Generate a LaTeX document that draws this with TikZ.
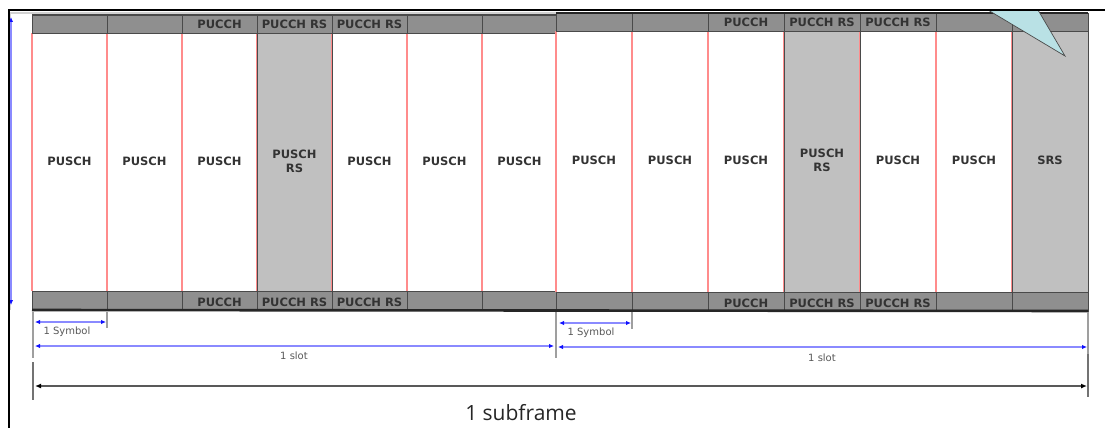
\documentclass[tikz,border=0pt]{standalone}
\usepackage{fontspec}
\setmainfont{DejaVu Sans}
\newfontfamily\capfont{Open Sans}
\usetikzlibrary{arrows.meta}
\definecolor{bandgray}{HTML}{8F8F8F}
\definecolor{cellgray}{HTML}{C0C0C0}
\definecolor{divgray}{HTML}{4A4A4A}
\definecolor{redline}{HTML}{FF8C8C}
\definecolor{txtgray}{HTML}{333333}
\definecolor{dimblue}{HTML}{1010FF}
\definecolor{dimline}{HTML}{8A8AFF}
\definecolor{callout}{HTML}{B9E1E5}
\begin{document}
\begin{tikzpicture}[x=1pt,y=-1pt,
  cellbox/.style={draw=none, inner sep=0pt, outer sep=0pt},
  bandbox/.style={fill=bandgray, draw=divgray, line width=0.9pt, inner sep=0pt, outer sep=0pt},
  celltxt/.style={font=\fontsize{11.5}{14}\selectfont\bfseries, text=txtgray, align=center, inner sep=0pt},
  redl/.style={draw=redline, line width=1.5pt},
  darkl/.style={draw=divgray, line width=0.9pt},
  ticks/.style={draw=gray!75, line width=1.2pt},
  darkticks/.style={draw=gray!90!black, line width=1.6pt},
  bluedim/.style={draw=dimline, line width=1.6pt, {Latex[length=5pt,width=4.5pt,fill=dimblue,color=dimblue]}-{Latex[length=5pt,width=4.5pt,fill=dimblue,color=dimblue]}},
  blackdim/.style={draw=gray!70!black, line width=1.6pt, {Latex[length=6pt,width=5pt,color=black]}-{Latex[length=6pt,width=5pt,color=black]}},
  dimtxt/.style={font=\fontsize{10}{11}\selectfont, text=gray!70!black, inner sep=0pt}]
\useasboundingbox (0,0) rectangle (1105,428);
\fill[white] (0,0) rectangle (1105,428);

% light outer frame around the grid
\draw[gray!35, line width=1.2pt] (10,310) -- (10,13) -- (556,13);

% ---- slots ----
\foreach \s/\xo/\w/\ya/\yb/\yc/\yd/\lastbody/\lastfill/\lastbd in
   {1/32/75/15/33/291/310/PUSCH/white/redl,
    2/556/76/13/31/292/311/SRS/cellgray/darkl} {
  \foreach \i/\body/\fillc in
     {0/PUSCH/white,
      1/PUSCH/white,
      2/PUSCH/white,
      3/{PUSCH\\RS}/cellgray,
      4/PUSCH/white,
      5/PUSCH/white,
      6/\lastbody/\lastfill} {
    \pgfmathsetmacro\xc{\xo+(\i+0.5)*\w}
    \node[cellbox, fill=\fillc, minimum width=\w pt, minimum height={(\yc-\yb)*1pt}]
       (b\s\i) at (\xc,{(\yb+\yc)/2}) {};
    \node[celltxt] (l\s\i) at (\xc,{(\yb+\yc)/2-1}) {\body};
  }
  % red lines first, dark borders of shaded columns after
  \foreach \i/\bd in {0/redl,1/redl,2/redl,4/redl,5/redl,6/\lastbd} {
    \draw[\bd] (b\s\i.north west) -- (b\s\i.south west);
    \draw[\bd] (b\s\i.north east) -- (b\s\i.south east);
  }
  \draw[darkl] (b\s3.north west) -- (b\s3.south west);
  \draw[darkl] (b\s3.north east) -- (b\s3.south east);
  \ifnum\s=2
    \draw[darkl] (b26.north west) -- (b26.south west);
  \fi
  % bands
  \foreach \i/\band in {0/,1/,2/PUCCH,3/PUCCH RS,4/PUCCH RS,5/,6/} {
    \pgfmathsetmacro\xc{\xo+(\i+0.5)*\w}
    \node[bandbox, minimum width=\w pt, minimum height={(\yb-\ya)*1pt}]
       (t\s\i) at (\xc,{(\ya+\yb)/2}) {};
    \node[celltxt] (tl\s\i) at (\xc,{(\ya+\yb)/2+0.5}) {\band};
    \node[bandbox, minimum width=\w pt, minimum height={(\yd-\yc)*1pt}]
       (d\s\i) at (\xc,{(\yc+\yd)/2}) {};
    \node[celltxt] (dl\s\i) at (\xc,{(\yc+\yd)/2+1.5}) {\band};
  }
}

% top edges of the bands
\draw[divgray, line width=1.4pt] (t10.north west) -- (t16.north east);
\draw[black!85, line width=2pt] (t20.north west) -- (t26.north east);

% callout pointer
\fill[callout] (988,10) -- (1065,56) -- (1038,10) -- cycle;
\draw[divgray, line width=0.7pt] (988,10) -- (1065,56) -- (1038,10);

% thick baseline
\draw[black!85, line width=2.6pt] (d10.south west) -- (d26.south east);

% left blue height arrow
\coordinate (ht) at (11,17);
\coordinate (hb) at (11,305);
\draw[bluedim] (ht) -- (hb);

% extension ticks
\coordinate (e1a) at (33,312);  \coordinate (e1b) at (33,358);
\coordinate (e2a) at (107,312); \coordinate (e2b) at (107,328);
\coordinate (e3a) at (556,312); \coordinate (e3b) at (556,358);
\coordinate (e4a) at (632,312); \coordinate (e4b) at (632,329);
\coordinate (e5a) at (1088,312);\coordinate (e5b) at (1088,354);
\coordinate (f1a) at (33,362);  \coordinate (f1b) at (33,400);
\coordinate (f2a) at (1088,354);\coordinate (f2b) at (1088,397);
\draw[ticks] (e1a) -- (e1b);
\draw[ticks] (e2a) -- (e2b);
\draw[ticks] (e3a) -- (e3b);
\draw[ticks] (e4a) -- (e4b);
\draw[ticks] (e5a) -- (e5b);
\draw[darkticks] (f1a) -- (f1b);
\draw[darkticks] (f2a) -- (f2b);

% dimension arrows
\coordinate (s1a) at (35,322);  \coordinate (s1b) at (106,322);
\coordinate (s2a) at (559,323); \coordinate (s2b) at (631,323);
\coordinate (p1a) at (35,346);  \coordinate (p1b) at (554,346);
\coordinate (p2a) at (558,347); \coordinate (p2b) at (1087,347);
\coordinate (sfa) at (35,386);  \coordinate (sfb) at (1087,386);
\draw[bluedim] (s1a) -- (s1b);
\draw[bluedim] (s2a) -- (s2b);
\draw[bluedim] (p1a) -- (p1b);
\draw[bluedim] (p2a) -- (p2b);
\draw[blackdim] (sfa) -- (sfb);

\node[dimtxt] (sym1) at (67,332) {1 Symbol};
\node[dimtxt] (sym2) at (591,333) {1 Symbol};
\node[dimtxt] (slot1) at (294,356) {1 slot};
\node[dimtxt] (slot2) at (822,358) {1 slot};
\node[font=\capfont\fontsize{21}{24}\selectfont, text=black!85, inner sep=0pt] (sub) at (521,413) {1 subframe};

% outer black frame
\draw[black, line width=1.8pt] (9,428) -- (9,10) -- (1105,10);
\end{tikzpicture}
\end{document}
